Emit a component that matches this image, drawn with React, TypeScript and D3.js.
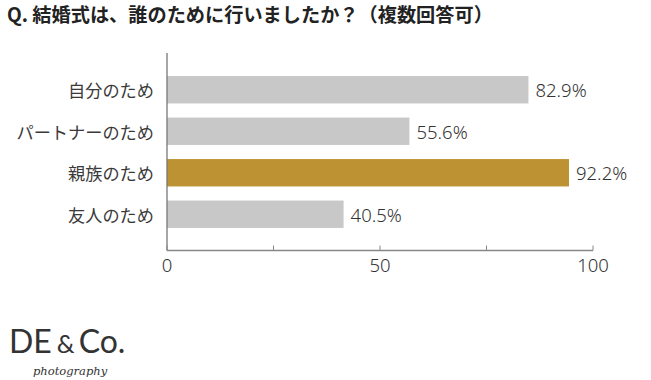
import React from "react";
import * as d3 from "d3";

const categories = ["自分のため", "パートナーのため", "親族のため", "友人のため"];
const values = [82.9, 55.6, 92.2, 40.5];
const highlight = [false, false, true, false];
const tickValues = [0, 25, 50, 75, 100];
const tickLabels = ["0", "", "50", "", "100"];
const title = "Q. 結婚式は、誰のために行いましたか？（複数回答可）";

const W = 651;
const H = 380;

export default function App() {
  const x = d3.scaleLinear().domain([0, 100]).range([167, 593]);
  const xBar = d3.scaleLinear().domain([0, 100]).range([167, 603]);
  const y = d3
    .scaleBand<string>()
    .domain(categories)
    .range([69, 235])
    .paddingInner(0.34)
    .paddingOuter(0.17);
  const axisY = 250.5;
  const font = "'Noto Sans CJK JP', 'Noto Sans', sans-serif";
  const numFont = "'Noto Sans', 'Open Sans', sans-serif";

  return (
    <svg
      width={W}
      height={H}
      style={{ position: "absolute", left: 0, top: 0, background: "#fff" }}
    >
      <text
        x={7}
        y={22}
        fontFamily={font}
        fontWeight={700}
        fontSize={19.2}
        fill="#222"
      >
        {title}
      </text>

      {categories.map((c, i) => (
        <g key={c}>
          <rect
            x={xBar(0)}
            y={y(c)!}
            width={xBar(values[i]) - xBar(0)}
            height={y.bandwidth()}
            fill={highlight[i] ? "#bd9232" : "#c8c8c8"}
          />
          <text
            x={154}
            y={y(c)! + y.bandwidth() / 2}
            textAnchor="end"
            dominantBaseline="central"
            fontFamily={font}
            fontSize={17.2}
            fill="#3a3a3a"
          >
            {c}
          </text>
          <text
            x={xBar(values[i]) + 7}
            y={y(c)! + y.bandwidth() / 2}
            dominantBaseline="central"
            fontFamily={numFont}
            fontWeight={300}
            fontSize={18.5}
            fill="#333"
          >
            {values[i].toFixed(1)}%
          </text>
        </g>
      ))}

      <line x1={x(0)} x2={x(0)} y1={53} y2={axisY} stroke="#777" strokeWidth={1.3} />
      <line x1={x(0)} x2={x(100)} y1={axisY} y2={axisY} stroke="#888" strokeWidth={1.3} />
      {tickValues.map((t, i) => (
        <g key={t}>
          <line x1={x(t)} x2={x(t)} y1={axisY - 5} y2={axisY} stroke="#888" strokeWidth={1} />
          {tickLabels[i] && (
            <text
              x={x(t)}
              y={272}
              textAnchor="middle"
              fontFamily={numFont}
              fontWeight={300}
              fontSize={18.5}
              fill="#333"
            >
              {tickLabels[i]}
            </text>
          )}
        </g>
      ))}

      <text x={9} y={353} fontFamily="'Lato', 'Noto Sans', sans-serif" fontSize={32} fill="#333">
        DE
        <tspan fontSize={25} dx={5}>&amp;</tspan>
        <tspan dx={4}>Co.</tspan>
      </text>
      <text
        x={33}
        y={375}
        fontFamily="'DejaVu Serif', 'Liberation Serif', serif"
        fontStyle="italic"
        fontSize={11.5}
        fill="#333"
      >
        photography
      </text>
    </svg>
  );
}
